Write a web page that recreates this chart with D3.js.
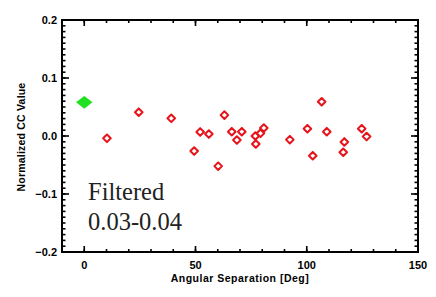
<!DOCTYPE html>
<html>
<head>
<meta charset="utf-8">
<script src="https://cdn.jsdelivr.net/npm/d3@7"></script>
<style>
  body { margin: 0; background: #fff; }
  svg text { font-family: "Liberation Sans", Arial, sans-serif; font-weight: bold; }
</style>
</head>
<body>
<svg id="chart" width="436" height="297"></svg>
<script>
// data
var refSep = [0];
var refVal = [0.058];
var sep = [10.2, 24.5, 39.1, 49.4, 52.1, 56.0, 60.2, 63.0, 66.3, 68.6, 70.8, 76.9,
           77.1, 79.2, 80.7, 92.4, 100.3, 102.7, 106.7, 109.0, 116.4, 116.9, 124.7, 126.9];
var ccVal = [-0.004, 0.041, 0.0305, -0.026, 0.007, 0.0034, -0.052, 0.036, 0.0074, -0.007, 0.0074, 0.0,
             -0.0138, 0.0046, 0.0138, -0.0063, 0.0126, -0.034, 0.059, 0.0074, -0.028, -0.0103, 0.0126, -0.001];
var xTicks = [0, 50, 100, 150];
var yTicks = [-0.2, -0.1, 0.0, 0.1, 0.2];
var labelLines = ["Filtered", "0.03-0.04"];

var svg = d3.select("#chart");
var pLeft = 62, pRight = 418, pTop = 20, pBottom = 252;

var x = d3.scaleLinear().domain([-10, 150]).range([pLeft, pRight]);
var y = d3.scaleLinear().domain([-0.2, 0.2]).range([pBottom, pTop]);

// minor ticks
var xMinor = d3.range(-10, 151, 10);
var yMinor = d3.range(-20, 21, 1).map(function(d){ return d / 100; });

function tickLines(g, vals, isX, len, pos, dir){
    g.selectAll(null).data(vals).enter().append("line")
        .attr("x1", function(d){ return isX ? x(d) : pos; })
        .attr("x2", function(d){ return isX ? x(d) : pos + dir * len; })
        .attr("y1", function(d){ return isX ? pos : y(d); })
        .attr("y2", function(d){ return isX ? pos + dir * len : y(d); })
        .attr("stroke", "#000").attr("stroke-width", 1.6);
}

var ax = svg.append("g");
tickLines(ax, xMinor, true, 3, pBottom, -1);
tickLines(ax, xMinor, true, 3, pTop, 1);
tickLines(ax, xTicks, true, 6, pBottom, -1);
tickLines(ax, xTicks, true, 6, pTop, 1);
tickLines(ax, yMinor, false, 3.5, pLeft, 1);
tickLines(ax, yMinor, false, 3.5, pRight, -1);
tickLines(ax, yTicks, false, 7, pLeft, 1);
tickLines(ax, yTicks, false, 7, pRight, -1);

ax.append("rect")
    .attr("x", pLeft).attr("y", pTop)
    .attr("width", pRight - pLeft).attr("height", pBottom - pTop)
    .attr("fill", "none").attr("stroke", "#000").attr("stroke-width", 2);

// tick labels
svg.selectAll(".xl").data(xTicks).enter().append("text")
    .attr("x", function(d){ return x(d); })
    .attr("y", 269)
    .attr("text-anchor", "middle")
    .attr("font-size", 11)
    .text(function(d){ return d; });

svg.selectAll(".yl").data(yTicks).enter().append("text")
    .attr("x", 57)
    .attr("y", function(d){ return y(d) + 4; })
    .attr("text-anchor", "end")
    .attr("font-size", 11)
    .text(function(d){ return d3.format(".1f")(d).replace("-", "\u2212"); });

// axis titles
svg.append("text")
    .attr("x", (pLeft + pRight) / 2).attr("y", 282)
    .attr("text-anchor", "middle").attr("font-size", 10.5)
    .attr("letter-spacing", 0.5)
    .text("Angular Separation [Deg]");

svg.append("text")
    .attr("transform", "translate(25," + ((pTop + pBottom) / 2 + 1) + ") rotate(-90)")
    .attr("text-anchor", "middle").attr("font-size", 10.5)
    .attr("letter-spacing", 0.2)
    .text("Normalized CC Value");

// points
var diamond = function(w, h){ return "M0," + (-h) + "L" + w + ",0L0," + h + "L" + (-w) + ",0Z"; };

svg.selectAll(".pt").data(d3.zip(sep, ccVal)).enter().append("path")
    .attr("d", diamond(3.8, 3.8))
    .attr("transform", function(d){ return "translate(" + x(d[0]) + "," + y(d[1]) + ")"; })
    .attr("fill", "none").attr("stroke", "#e8141c").attr("stroke-width", 2)
    .attr("stroke-linejoin", "round");

svg.selectAll(".ref").data(d3.zip(refSep, refVal)).enter().append("path")
    .attr("d", diamond(7, 5.5))
    .attr("transform", function(d){ return "translate(" + x(d[0]) + "," + y(d[1]) + ")"; })
    .attr("fill", "#22e022").attr("stroke", "#22e022").attr("stroke-width", 1.5);

// annotation
svg.selectAll(".ann").data(labelLines).enter().append("text")
    .attr("x", 88)
    .attr("y", function(d, i){ return 200 + i * 30; })
    .style("font-family", "'Liberation Serif', 'Times New Roman', serif")
    .style("font-weight", "normal")
    .attr("font-size", 24.5)
    .attr("fill", "#222")
    .text(function(d){ return d; });
</script>
</body>
</html>
